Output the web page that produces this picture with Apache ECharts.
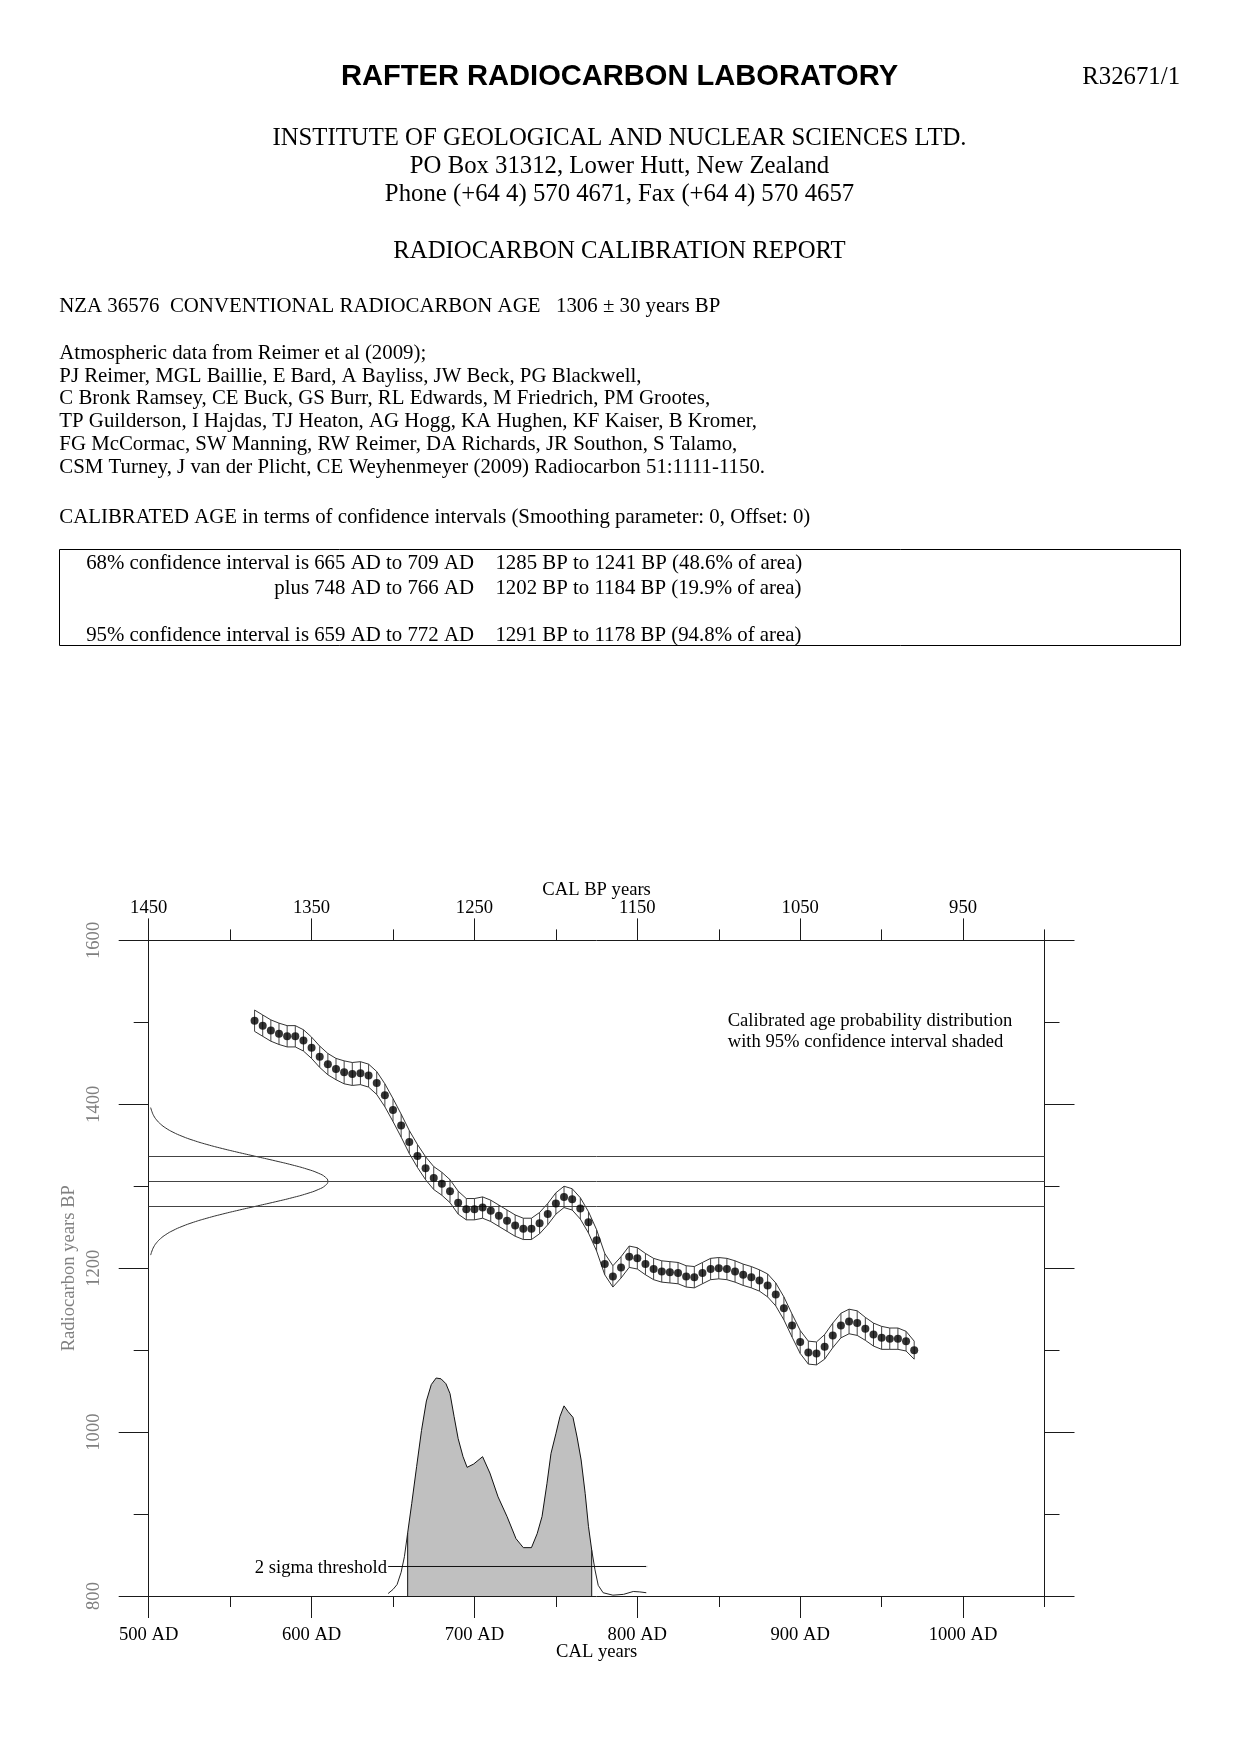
<!DOCTYPE html>
<html><head><meta charset="utf-8">
<script src="https://cdn.jsdelivr.net/npm/echarts@6/dist/echarts.min.js"></script>
<style>html,body{margin:0;padding:0;background:#fff}#c{width:1239px;height:1754px}</style>
</head><body><div id="c"></div>
<script>
// ---- calibration curve (IntCal09) ----
const calAD = [565,570,575,580,585,590,595,600,605,610,615,620,625,630,635,640,645,650,655,660,665,670,675,680,685,690,695,700,705,710,715,720,725,730,735,740,745,750,755,760,765,770,775,780,785,790,795,800,805,810,815,820,825,830,835,840,845,850,855,860,865,870,875,880,885,890,895,900,905,910,915,920,925,930,935,940,945,950,955,960,965,970];
const calBP = [1502,1496,1490,1486,1483,1483,1478,1469,1458,1449,1443,1439,1437,1438,1435,1426,1411,1393,1374,1354,1337,1322,1310,1303,1294,1280,1272,1272,1274,1270,1264,1258,1252,1248,1248,1255,1266,1279,1287,1284,1273,1256,1234,1205,1190,1201,1214,1212,1205,1199,1196,1195,1194,1190,1189,1194,1199,1200,1199,1196,1192,1189,1185,1179,1168,1151,1130,1110,1097,1096,1104,1118,1130,1135,1133,1126,1119,1115,1114,1114,1111,1100];
const calErr = [13,13,13,13,13,13,13,13,13,13,13,14,14,14,14,14,14,14,14,14,14,14,14,14,14,14,13,13,13,13,13,13,13,13,13,13,13,13,13,13,13,13,13,13,13,13,13,13,13,13,13,13,13,13,13,13,13,13,13,13,13,13,13,14,14,14,14,14,14,14,15,15,15,15,15,14,14,14,13,13,12,11];

// ---- measured age 1306 +/- 30 : normal curve on the y axis ----
const measuredAge = [1276, 1306, 1336];
const gaussBP = [1216,1221,1226,1231,1236,1241,1246,1251,1256,1261,1266,1271,1276,1281,1286,1291,1296,1301,1306,1311,1316,1321,1326,1331,1336,1341,1346,1351,1356,1361,1366,1371,1376,1381,1386,1391,1396];
const gaussAD = [501.2,502.0,503.1,504.8,507.2,510.5,514.9,520.5,527.4,535.7,545.2,555.7,566.7,577.7,588.1,597.1,604.1,608.5,610.0,608.5,604.1,597.1,588.1,577.7,566.7,555.7,545.2,535.7,527.4,520.5,514.9,510.5,507.2,504.8,503.1,502.0,501.2];

// ---- calibrated age probability distribution (drawn in y units above 800) ----
const probAD = [647,650,652.5,655,657,659,661.5,664.5,667.5,670.5,673.5,676.5,679.5,682.5,685,687.5,690,693,695.5,699.5,705,709.5,714.5,720,725.5,730,735,738.5,741.5,744.5,747,750,752.5,755,757.5,760.5,763,765.5,768,770,772,774,776,779,785,791.5,797.5,801.5,805.5];
const probY  = [803,808,814,829,848,877,913,958,1002,1038,1058,1066,1065,1059,1047,1019,992,970,957,961,970,950,921,897,870,859,859,876,897,937,974,998,1019,1032,1025,1018,994,966,925,885,856,832,813,804,801,802,805.5,805,804];
const hpd95 = [659, 772];
const thresholdY = 836;
const thresholdAD = [647, 805.5];

// ---- axis ticks ----
const adTicks = [500,600,700,800,900,1000];
const adLabels = ['500 AD','600 AD','700 AD','800 AD','900 AD','1000 AD'];
const bpLabels = ['1450','1350','1250','1150','1050','950'];

// ---- header text ----
const authors = [
 'Atmospheric data from Reimer et al (2009);',
 'PJ Reimer, MGL Baillie, E Bard, A Bayliss, JW Beck, PG Blackwell,',
 'C Bronk Ramsey, CE Buck, GS Burr, RL Edwards, M Friedrich, PM Grootes,',
 'TP Guilderson, I Hajdas, TJ Heaton, AG Hogg, KA Hughen, KF Kaiser, B Kromer,',
 'FG McCormac, SW Manning, RW Reimer, DA Richards, JR Southon, S Talamo,',
 'CSM Turney, J van der Plicht, CE Weyhenmeyer (2009) Radiocarbon 51:1111-1150.'
];

const SERIF = '"Liberation Serif", "Times New Roman", serif';
const SANS = '"Liberation Sans", Arial, sans-serif';
const FS = 18.6;
const BODY = 20.85;
const HEAD = 24.75;
const DY = 2.3;

function txt(x, y, s, size, align, opts) {
  opts = opts || {};
  return {type:'text', x:x, y:y + DY, silent:true, style:{text:s, fill:'#000',
    font:(opts.bold?'bold ':'') + size + 'px ' + (opts.sans?SANS:SERIF),
    align:align, verticalAlign:'middle', textAlign:align, textVerticalAlign:'middle'}};
}

const graphics = [];
graphics.push(txt(619.5, 75, 'RAFTER RADIOCARBON LABORATORY', 29.1, 'center', {bold:true, sans:true}));
graphics.push(txt(1180, 75, 'R32671/1', HEAD, 'right'));
graphics.push(txt(619.5, 136.4, 'INSTITUTE OF GEOLOGICAL AND NUCLEAR SCIENCES LTD.', HEAD, 'center'));
graphics.push(txt(619.5, 164.4, 'PO Box 31312, Lower Hutt, New Zealand', HEAD, 'center'));
graphics.push(txt(619.5, 192.3, 'Phone (+64 4) 570 4671, Fax (+64 4) 570 4657', HEAD, 'center'));
graphics.push(txt(619.5, 249.4, 'RADIOCARBON CALIBRATION REPORT', HEAD, 'center'));
graphics.push(txt(59.3, 304.2, 'NZA 36576  CONVENTIONAL RADIOCARBON AGE', BODY, 'left'));
graphics.push(txt(556, 304.2, '1306 \u00b1 30 years BP', BODY, 'left'));
const authY = [351.1, 373.8, 396.4, 419.0, 441.9, 465.2];
authors.forEach((s, i) => graphics.push(txt(59.3, authY[i], s, BODY, 'left')));
graphics.push(txt(59.3, 515.5, 'CALIBRATED AGE in terms of confidence intervals (Smoothing parameter: 0, Offset: 0)', BODY, 'left'));
graphics.push({type:'rect', silent:true, shape:{x:59.5, y:549.5, width:1121, height:96}, style:{fill:'none', stroke:'#000', lineWidth:1}});
graphics.push(txt(474, 561.3, '68% confidence interval is 665 AD to 709 AD', BODY, 'right'));
graphics.push(txt(495.4, 561.3, '1285 BP to 1241 BP (48.6% of area)', BODY, 'left'));
graphics.push(txt(474, 586, 'plus 748 AD to 766 AD', BODY, 'right'));
graphics.push(txt(495.4, 586, '1202 BP to 1184 BP (19.9% of area)', BODY, 'left'));
graphics.push(txt(474, 633, '95% confidence interval is 659 AD to 772 AD', BODY, 'right'));
graphics.push(txt(495.4, 633, '1291 BP to 1178 BP (94.8% of area)', BODY, 'left'));
graphics.push(txt(727.7, 1019, 'Calibrated age probability distribution', FS, 'left'));
graphics.push(txt(727.7, 1040, 'with 95% confidence interval shaded', FS, 'left'));

// ---- build series data ----
const upper = calAD.map((x, i) => [x, calBP[i] + calErr[i]]);
const lower = calAD.map((x, i) => [x, calBP[i] - calErr[i]]);
const hatch = calAD.map((x, i) => [x, calBP[i] - calErr[i], calBP[i] + calErr[i]]);
const dots = calAD.map((x, i) => [x, calBP[i]]);
const gauss = gaussBP.map((y, i) => [gaussAD[i], y]);
const shaded = [[hpd95[0], 800]];
const leftTail = [], rightTail = [];
probAD.forEach((x, i) => {
  if (x >= hpd95[0] && x <= hpd95[1]) shaded.push([x, probY[i]]);
  if (x <= hpd95[0]) leftTail.push([x, probY[i]]);
  if (x >= hpd95[1]) rightTail.push([x, probY[i]]);
});
shaded.push([hpd95[1], 800]);

const AX = '#1a1a1a';
const lineCol = '#333';

function xAxisDef(pos, major) {
  const a = {type:'value', position:pos, min:500, max:1050, gridIndex:0,
    splitLine:{show:false},
    axisLine:{show:major, onZero:false, lineStyle:{color:AX, width:1}},
    axisTick:{show:true, inside:false, length: major ? 22 : 11, lineStyle:{color:AX, width:1}},
    axisLabel:{show:false}};
  if (major) {
    a.interval = 100;
    a.axisTick.customValues = adTicks;
    a.axisLabel = {show:true, customValues: adTicks, margin: pos === 'bottom' ? 30 : 23,
      fontFamily:SERIF, fontSize:FS, color:'#000',
      formatter: v => pos === 'bottom' ? adLabels[adTicks.indexOf(v)] : bpLabels[adTicks.indexOf(v)]};
    a.name = pos === 'bottom' ? 'CAL years' : 'CAL BP years';
    a.nameLocation = 'middle';
    a.nameGap = pos === 'bottom' ? 47 : 41;
    a.nameMoveOverlap = false;
    a.nameTextStyle = {fontFamily:SERIF, fontSize:FS, color:'#000'};
  } else {
    a.interval = 50;
  }
  return a;
}
function yAxisDef(pos) {
  const left = pos === 'left';
  return {type:'value', position:pos, min:800, max:1600, interval:200, gridIndex:0,
    splitLine:{show:false},
    axisLine:{show:true, onZero:false, lineStyle:{color:AX, width:1}},
    axisTick:{show:true, inside:false, length:30, lineStyle:{color:AX, width:1}},
    minorTick:{show:true, splitNumber:2, length:15, lineStyle:{color:AX, width:1}},
    axisLabel:{show:left, rotate:90, margin:45.5, fontFamily:SERIF, fontSize:FS, color:'#808080',
      formatter: v => String(v)},
    name: left ? 'Radiocarbon years BP' : '',
    nameLocation:'middle', nameRotate:90, nameGap:70, nameMoveOverlap:false,
    nameTextStyle:{fontFamily:SERIF, fontSize:FS, color:'#808080'}};
}

const option = {
  animation:false,
  backgroundColor:'#fff',
  grid:{left:148.7, top:940.4, width:895.8, height:655.6, containLabel:false, outerBoundsMode:'none'},
  xAxis:[xAxisDef('bottom', true), xAxisDef('bottom', false), xAxisDef('top', true), xAxisDef('top', false)],
  yAxis:[yAxisDef('left'), yAxisDef('right')],
  graphic:graphics,
  series:[
    {type:'line', name:'hpd95', data:shaded, showSymbol:false, xAxisIndex:0, yAxisIndex:0,
     lineStyle:{color:'#111', width:1}, areaStyle:{color:'#c0c0c0', opacity:1}, z:1},
    {type:'line', data:leftTail, showSymbol:false, lineStyle:{color:'#222', width:1}, z:2},
    {type:'line', data:rightTail, showSymbol:false, lineStyle:{color:'#222', width:1}, z:2},
    {type:'line', data:[
        {value:[thresholdAD[0], thresholdY], symbol:'circle', symbolSize:0.1,
         label:{show:true, position:'left', distance:1, offset:[0, 2], formatter:'2 sigma threshold', fontFamily:SERIF, fontSize:FS, color:'#000'}},
        [thresholdAD[1], thresholdY]],
     showSymbol:true, symbolSize:0.1, itemStyle:{color:'#000'}, lineStyle:{color:'#111', width:1}, z:3},
    {type:'line', data:gauss, smooth:true, showSymbol:false, lineStyle:{color:lineCol, width:1}, z:3,
     markLine:{silent:true, symbol:['none','none'], label:{show:false},
       lineStyle:{color:'#444', width:1, type:'solid'},
       data: measuredAge.map(v => ({yAxis:v}))}},
    {type:'line', data:upper, showSymbol:false, lineStyle:{color:lineCol, width:1}, z:3},
    {type:'line', data:lower, showSymbol:false, lineStyle:{color:lineCol, width:1}, z:3},
    {type:'custom', data:hatch, z:3, encode:{x:0, y:[1,2]},
     renderItem:(params, api) => {
       const p1 = api.coord([api.value(0), api.value(1)]);
       const p2 = api.coord([api.value(0), api.value(2)]);
       return {type:'line', shape:{x1:p1[0], y1:p1[1], x2:p2[0], y2:p2[1]}, style:{stroke:'#444', lineWidth:1}};
     }},
    {type:'scatter', data:dots, symbol:'circle', symbolSize:8, itemStyle:{color:'#000'}, z:5}
  ]
};
const chart = echarts.init(document.getElementById('c'), null, {renderer:'canvas', width:1239, height:1754});
chart.setOption(option);
</script></body></html>
